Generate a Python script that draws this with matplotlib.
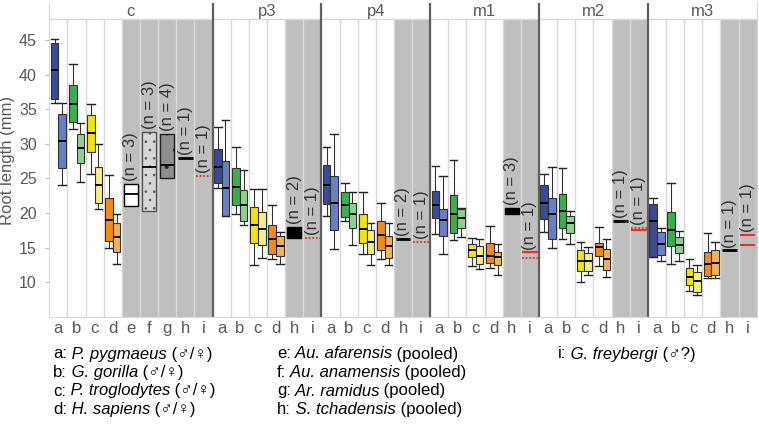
import numpy as np
import matplotlib.pyplot as plt
from matplotlib.patches import Rectangle

plt.rcParams['font.family'] = ['Liberation Sans', 'DejaVu Sans']
plt.rcParams['hatch.linewidth'] = 0.6

# panels (tooth types) and column letters
panels = ['c', 'p3', 'p4', 'm1', 'm2', 'm3']
extant_cols = ['a', 'b', 'c', 'd']
fossil_cols_c = ['e', 'f', 'g', 'h', 'i']
fossil_cols = ['h', 'i']

# extant box stats, rows a-d: [whisker low, q1, median, q3, whisker high]
c_male = [[35.9, 36.5, 40.6, 44.5, 45.1], [32.2, 33.2, 35.8, 38.5, 41.6],
          [25.7, 28.8, 31.5, 34.2, 35.8], [15.0, 15.9, 19.0, 22.1, 25.5]]
c_female = [[24.0, 26.5, 30.4, 34.3, 35.9], [24.5, 27.2, 29.4, 31.4, 33.0],
            [20.6, 21.5, 24.1, 26.6, 30.0], [12.6, 14.4, 16.5, 18.5, 19.8]]
p3_male = [[23.6, 24.4, 26.7, 29.2, 32.4], [19.9, 21.1, 23.7, 26.5, 29.5],
           [12.45, 15.6, 18.2, 20.9, 23.4], [13.4, 14.0, 16.3, 18.2, 21.2]]
p3_female = [[19.5, 19.5, 23.6, 27.5, 33.5], [18.2, 18.8, 21.1, 23.3, 26.25],
             [13.5, 15.4, 17.75, 20.1, 23.5], [12.65, 13.75, 15.2, 16.65, 17.3]]
p4_male = [[19.6, 21.3, 24.1, 27.0, 29.6], [18.9, 19.4, 21.2, 23.0, 24.3],
           [14.0, 15.6, 17.7, 19.9, 23.0], [13.4, 14.7, 16.8, 18.9, 21.45]]
p4_female = [[14.8, 17.6, 21.5, 25.4, 31.4], [15.3, 17.8, 19.8, 21.5, 23.0],
             [12.45, 14.0, 15.8, 17.6, 18.5], [12.45, 13.5, 15.2, 16.7, 18.5]]
m1_male = [[17.0, 19.3, 21.2, 23.2, 26.8], [16.1, 17.1, 19.9, 22.55, 27.7],
           [12.3, 13.65, 14.6, 15.5, 16.4], [12.1, 12.8, 13.75, 15.7, 18.1]]
m1_female = [[14.0, 16.6, 19.0, 20.5, 25.4], [16.5, 17.8, 19.2, 20.6, 20.7],
             [11.9, 12.55, 13.75, 15.2, 16.25], [11.0, 12.45, 13.7, 14.4, 15.5]]
m2_male = [[17.2, 19.1, 21.5, 24.0, 25.7], [16.3, 17.8, 20.3, 22.8, 26.5],
           [10.0, 11.6, 13.1, 14.6, 15.8], [12.3, 13.75, 15.1, 15.7, 17.9]]
m2_female = [[15.0, 16.25, 19.8, 22.1, 26.6], [15.5, 17.1, 18.5, 19.6, 20.3],
             [11.0, 11.6, 13.0, 14.2, 15.1], [10.8, 11.8, 13.4, 14.8, 16.2]]
m3_male = [[13.7, 13.7, 18.8, 21.3, 22.1], [12.65, 15.2, 17.6, 20.1, 24.3],
           [8.7, 9.6, 10.8, 12.1, 13.4], [10.6, 10.9, 12.55, 14.4, 17.1]]
m3_female = [[13.0, 13.85, 15.5, 17.2, 17.8], [13.1, 14.2, 15.3, 16.5, 17.45],
             [8.2, 8.6, 10.15, 11.5, 12.45], [10.6, 11.1, 12.8, 14.6, 15.8]]
males = [c_male, p3_male, p4_male, m1_male, m2_male, m3_male]
females = [c_female, p3_female, p4_female, m1_female, m2_female, m3_female]

# pooled fossil samples in the canine panel: [low, median, high]
e_canine = [21.0, 22.8, 24.2]
f_canine = [20.3, 26.6, 31.7]
g_canine = [25.0, 26.9, 31.4]
efg_n = [3, 3, 4]

# S. tchadensis (h) per panel: one value -> line, two -> range block
h_vals = [[28.0], [16.4, 18.0], [16.25], [19.8, 20.7], [18.8], [14.6]]
h_n = [1, 2, 2, 3, 1, 1]
# G. freybergi (i) per panel
i_solid = [[], [], [], [14.3], [17.5], [16.8, 15.3]]
i_dotted = [[25.4], [16.4], [15.8], [13.5], [17.8], []]
i_n = [1, 1, 1, 1, 1, 1]

dark_colors = ['#3B4A97', '#3DAE4A', '#F2E600', '#F28A1C']
light_colors = ['#6A7EC4', '#8DD08F', '#F5EF8A', '#F2B255']

legend_col1 = [('a:', ' P. pygmaeus', ' (♂/♀)'), ('b:', ' G. gorilla', ' (♂/♀)'),
               ('c:', ' P. troglodytes', ' (♂/♀)'), ('d:', ' H. sapiens', ' (♂/♀)')]
legend_col2 = [('e:', ' Au. afarensis', ' (pooled)'), ('f:', ' Au. anamensis', ' (pooled)'),
               ('g:', ' Ar. ramidus', ' (pooled)'), ('h:', ' S. tchadensis', ' (pooled)')]
legend_col3 = [('i:', ' G. freybergi', ' (♂?)')]

W, H = 759, 425
fig = plt.figure(figsize=(W / 100, H / 100), dpi=100)
ax = fig.add_axes([49.3 / W, 1 - 316.7 / H, 707.4 / W, 313.7 / H])

ymin, ytop, yhead = 5, 50.35, 48
ncols = 9 + 6 * 5
ax.set_xlim(0, ncols)
ax.set_ylim(ymin, ytop)

grey = '#595959'
light = '#D9D9D9'

# column layout
starts = [0, 9, 15, 21, 27, 33]
col_letters = []
for p, name in enumerate(panels):
    fos = fossil_cols_c if name == 'c' else fossil_cols
    letters = extant_cols + fos
    col_letters += letters
    s = starts[p]
    gs = s + 4
    ax.add_patch(Rectangle((gs, ymin), len(fos), yhead - ymin, facecolor='#BFBFBF',
                           edgecolor='none', zorder=0))
    ax.text(s + len(letters) / 2, (yhead + ytop) / 2, name, ha='center', va='center',
            fontsize=12, color=grey)

ax.vlines(np.arange(1, ncols), ymin, yhead, color=light, lw=1, zorder=0.5)
ax.hlines(yhead, 0, ncols, color=light, lw=1, zorder=0.5)
for s in starts[1:]:
    ax.axvline(s, color='#606060', lw=1.6, zorder=3)

# extant boxes
bw = 0.42
for p in range(len(panels)):
    s = starts[p]
    for k in range(4):
        for data, off, col in ((males[p][k], 0.29, dark_colors[k]),
                               (females[p][k], 0.71, light_colors[k])):
            st = dict(whislo=data[0], q1=data[1], med=data[2], q3=data[3], whishi=data[4])
            b = ax.bxp([st], positions=[s + k + off], widths=bw, capwidths=bw,
                       showfliers=False, patch_artist=True, manage_ticks=False,
                       boxprops=dict(facecolor=col, edgecolor='#333333', lw=0.8),
                       whiskerprops=dict(color='#333333', lw=0.8),
                       capprops=dict(color='#222222', lw=1.0),
                       medianprops=dict(color='black', lw=1.4))
            for art in b['boxes'] + b['whiskers'] + b['caps'] + b['medians']:
                art.set_zorder(2)

fw = 0.8


def n_label(x, y, n):
    ax.text(x, y + 0.4, '(n = %d)' % n, rotation=90, ha='center', va='bottom',
            fontsize=12, color='#333333', zorder=4)


# pooled fossil boxes in canine panel
fstyles = [dict(facecolor='white', edgecolor='black', hatch=None),
           dict(facecolor='#D6D6D6', edgecolor='#555555', hatch='..'),
           dict(facecolor='#8E8E8E', edgecolor='#222222', hatch='.')]
for j, (vals, n) in enumerate(zip([e_canine, f_canine, g_canine], efg_n)):
    cx = 4 + j + 0.5
    ax.add_patch(Rectangle((cx - fw / 2, vals[0]), fw, vals[2] - vals[0], lw=1,
                           zorder=2, **fstyles[j]))
    ax.hlines(vals[1], cx - fw / 2, cx + fw / 2, color='black', lw=1.3, zorder=2.5)
    n_label(cx, vals[2], n)

for p in range(len(panels)):
    s = starts[p]
    hx = s + (7 if p == 0 else 4) + 0.5
    ix = hx + 1
    hv = h_vals[p]
    if len(hv) == 1:
        ax.hlines(hv[0], hx - fw / 2, hx + fw / 2, color='black', lw=2, zorder=2)
    else:
        ax.add_patch(Rectangle((hx - fw / 2, hv[0]), fw, hv[1] - hv[0],
                               facecolor='black', edgecolor='black', zorder=2))
    n_label(hx, max(hv), h_n[p])
    for v in i_solid[p]:
        ax.hlines(v, ix - 0.43, ix + 0.43, color='#E8322F', lw=1.5, zorder=2)
    for v in i_dotted[p]:
        ax.hlines(v, ix - 0.43, ix + 0.43, color='#E8322F', lw=1.3,
                  linestyles=(0, (1, 1)), zorder=2)
    n_label(ix, max(i_solid[p] + i_dotted[p]), i_n[p])

# axes styling
ax.set_yticks(range(10, 50, 5))
ax.set_xticks(np.arange(ncols) + 0.5)
ax.set_xticklabels(col_letters)
ax.tick_params(axis='y', colors='#BFBFBF', length=3, labelcolor=grey, labelsize=11.5, pad=6)
ax.tick_params(axis='x', length=0, labelcolor=grey, labelsize=12, pad=3)
ax.spines['top'].set_visible(False)
for side in ('left', 'right', 'bottom'):
    ax.spines[side].set_color(light)
fig.text(8 / W, 1 - 160 / H, 'Root length (mm)', rotation=90, ha='center', va='center',
         fontsize=12, color=grey)

# legend with italic species names
renderer = fig.canvas.get_renderer()


def rich_text(x, y, parts):
    for s, style in zip(parts, ('normal', 'italic', 'normal')):
        t = fig.text(x, y, s, style=style, fontsize=12, va='center', ha='left',
                     color='black')
        x += t.get_window_extent(renderer).width / W


rows_y = [354, 372.5, 391, 409.5]
for xpx, entries in ((53, legend_col1), (277, legend_col2), (558, legend_col3)):
    for r, parts in enumerate(entries):
        rich_text(xpx / W, 1 - rows_y[r] / H, parts)

fig.savefig('out.png', dpi=100)
